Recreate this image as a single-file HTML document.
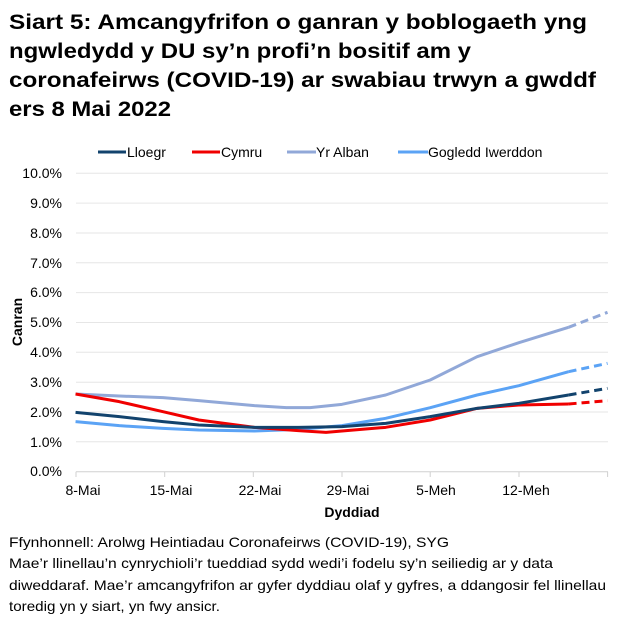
<!DOCTYPE html>
<html><head><meta charset="utf-8"><style>
body{margin:0;background:#fff;}
svg{display:block;font-family:"Liberation Sans",Arial,sans-serif;}
</style></head><body>
<svg width="618" height="625" viewBox="0 0 618 625" xmlns="http://www.w3.org/2000/svg">
<g font-weight="bold" font-size="21" fill="#000">
<text x="9" y="29" textLength="578" lengthAdjust="spacingAndGlyphs">Siart 5: Amcangyfrifon o ganran y boblogaeth yng</text>
<text x="9" y="58" textLength="462" lengthAdjust="spacingAndGlyphs">ngwledydd y DU sy’n profi’n bositif am y</text>
<text x="9" y="87" textLength="587" lengthAdjust="spacingAndGlyphs">coronafeirws (COVID-19) ar swabiau trwyn a gwddf</text>
<text x="9" y="116" textLength="162" lengthAdjust="spacingAndGlyphs">ers 8 Mai 2022</text>
</g>
<!-- legend -->
<g font-size="14" fill="#000">
<line x1="98" y1="152" x2="126" y2="152" stroke="#12436D" stroke-width="3"/>
<text x="127" y="157">Lloegr</text>
<line x1="192" y1="152" x2="220" y2="152" stroke="#F00000" stroke-width="3"/>
<text x="221" y="157">Cymru</text>
<line x1="287" y1="152" x2="316" y2="152" stroke="#91A8D8" stroke-width="3"/>
<text x="316" y="157">Yr Alban</text>
<line x1="398" y1="152" x2="428" y2="152" stroke="#5BA3F5" stroke-width="3"/>
<text x="428" y="157">Gogledd Iwerddon</text>
</g>
<!-- grid -->
<g stroke="#e6e6e6" stroke-width="1">
<line x1="76" x2="608" y1="173.3" y2="173.3"/>
<line x1="76" x2="608" y1="203.1" y2="203.1"/>
<line x1="76" x2="608" y1="233" y2="233"/>
<line x1="76" x2="608" y1="262.8" y2="262.8"/>
<line x1="76" x2="608" y1="292.6" y2="292.6"/>
<line x1="76" x2="608" y1="322.5" y2="322.5"/>
<line x1="76" x2="608" y1="352.3" y2="352.3"/>
<line x1="76" x2="608" y1="382.2" y2="382.2"/>
<line x1="76" x2="608" y1="412" y2="412"/>
<line x1="76" x2="608" y1="441.8" y2="441.8"/>
</g>
<g stroke="#d0d0d0" stroke-width="1">
<line x1="76" x2="608" y1="471.7" y2="471.7"/>
<line x1="76" x2="76" y1="471.7" y2="477"/>
<line x1="164.7" x2="164.7" y1="471.7" y2="477"/>
<line x1="253.3" x2="253.3" y1="471.7" y2="477"/>
<line x1="342" x2="342" y1="471.7" y2="477"/>
<line x1="430.2" x2="430.2" y1="471.7" y2="477"/>
<line x1="519" x2="519" y1="471.7" y2="477"/>
<line x1="607.6" x2="607.6" y1="471.7" y2="477"/>
</g>
<g font-size="14" fill="#000" text-anchor="end">
<text x="62" y="178">10.0%</text><text x="62" y="208">9.0%</text><text x="62" y="238">8.0%</text>
<text x="62" y="268">7.0%</text><text x="62" y="297">6.0%</text><text x="62" y="327">5.0%</text>
<text x="62" y="357">4.0%</text><text x="62" y="387">3.0%</text><text x="62" y="417">2.0%</text>
<text x="62" y="447">1.0%</text><text x="62" y="476">0.0%</text>
</g>
<g font-size="14" fill="#000" text-anchor="middle">
<text x="83" y="495">8-Mai</text><text x="171" y="495">15-Mai</text><text x="260" y="495">22-Mai</text>
<text x="348" y="495">29-Mai</text><text x="436" y="495">5-Meh</text><text x="526" y="495">12-Meh</text>
</g>
<text x="352" y="517" font-size="14" font-weight="bold" text-anchor="middle">Dyddiad</text>
<text transform="translate(22,322) rotate(-90)" font-size="14" font-weight="bold" text-anchor="middle">Canran</text>
<!-- series -->
<g transform="translate(0,140) scale(0.3976,0.33333)" fill="none" stroke-width="3" stroke-linejoin="round">
<polyline vector-effect="non-scaling-stroke" stroke="#91A8D8" points="190,762 300,768 410,773 500,782 640,797 720,803 780,803 860,793 970,765 1082,720 1200,650 1305,608 1430,562"/>
<polyline vector-effect="non-scaling-stroke" stroke="#91A8D8" stroke-dasharray="8,5" points="1430,562 1528,517"/>
<polyline vector-effect="non-scaling-stroke" stroke="#5BA3F5" points="190,845 300,857 410,865 500,870 640,873 750,868 860,857 970,835 1082,803 1200,765 1305,737 1430,695"/>
<polyline vector-effect="non-scaling-stroke" stroke="#5BA3F5" stroke-dasharray="8,5" points="1430,695 1528,670"/>
<polyline vector-effect="non-scaling-stroke" stroke="#F00000" points="190,762 300,785 410,815 500,840 640,862 750,872 820,877 860,873 970,862 1082,840 1200,805 1305,795 1430,792"/>
<polyline vector-effect="non-scaling-stroke" stroke="#F00000" stroke-dasharray="8,5" points="1430,792 1528,782"/>
<polyline vector-effect="non-scaling-stroke" stroke="#12436D" points="190,817 300,830 410,845 500,855 640,862 750,862 860,860 970,850 1082,830 1200,805 1305,790 1430,765"/>
<polyline vector-effect="non-scaling-stroke" stroke="#12436D" stroke-dasharray="8,5" points="1430,765 1528,745"/>
</g>
<g font-size="14" fill="#000">
<text x="9" y="547" textLength="440" lengthAdjust="spacingAndGlyphs">Ffynhonnell: Arolwg Heintiadau Coronafeirws (COVID-19), SYG</text>
<text x="9" y="568" textLength="544" lengthAdjust="spacingAndGlyphs">Mae’r llinellau’n cynrychioli’r tueddiad sydd wedi’i fodelu sy’n seiliedig ar y data</text>
<text x="9" y="590" textLength="597" lengthAdjust="spacingAndGlyphs">diweddaraf. Mae’r amcangyfrifon ar gyfer dyddiau olaf y gyfres, a ddangosir fel llinellau</text>
<text x="9" y="611" textLength="211" lengthAdjust="spacingAndGlyphs">toredig yn y siart, yn fwy ansicr.</text>
</g>
</svg>
</body></html>
